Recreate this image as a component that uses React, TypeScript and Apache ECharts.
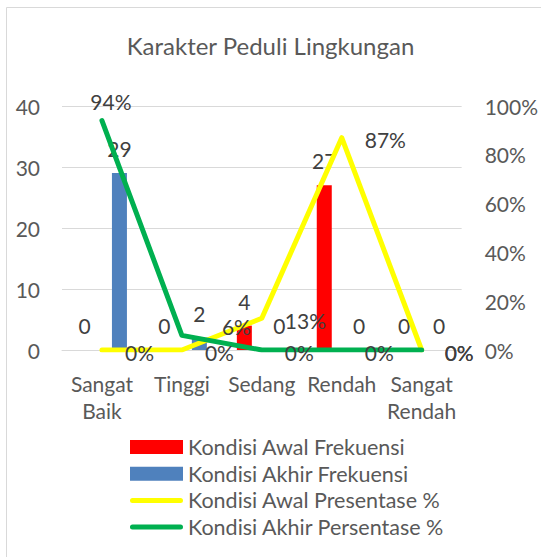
import React, { useEffect, useRef } from "react";
import * as echarts from "echarts";

const categories = ["Sangat\nBaik", "Tinggi", "Sedang", "Rendah", "Sangat\nRendah"];
const awalFrekuensi = [0, 0, 4, 27, 0];
const akhirFrekuensi = [29, 2, 0, 0, 0];
const awalPersen = [0, 0, 13, 87, 0];
const akhirPersen = [94, 6, 0, 0, 0];
const leftTicks = { min: 0, max: 40, interval: 10 };
const rightTicks = { min: 0, max: 100, interval: 20 };

const FONT = "Lato";
const TXT = "#595959";
const LBL = "#404040";

export default function App() {
  const ref = useRef<HTMLDivElement>(null);
  useEffect(() => {
    if (!ref.current) return;
    const chart = echarts.init(ref.current, undefined, { renderer: "svg" });
    const pctLabel = (p: any) => `${p.value}%`;
    const lineLabelRight = { show: true, position: "right", distance: 23, offset: [0, 2], formatter: pctLabel, color: LBL, fontSize: 21, fontFamily: FONT };
    chart.setOption({
      animation: false,
      backgroundColor: "#ffffff",
      textStyle: { fontFamily: FONT },
      title: {
        text: "Karakter Peduli Lingkungan",
        left: "center",
        top: 28,
        textStyle: { fontFamily: FONT, fontSize: 24, fontWeight: "normal", color: TXT },
      },
      graphic: [
        { type: "rect", shape: { x: 6.5, y: 7.5, width: 560, height: 570 }, style: { fill: "none", stroke: "#D9D9D9", lineWidth: 1 }, silent: true },
      ],
      legend: {
        orient: "vertical",
        left: 125,
        top: 431,
        itemWidth: 53,
        itemHeight: 14,
        itemGap: 4.7,
        textStyle: { fontFamily: FONT, fontSize: 21.5, color: TXT, lineHeight: 20, height: 20 },
        data: [
          { name: "Kondisi Awal Frekuensi", icon: "rect" },
          { name: "Kondisi Akhir Frekuensi", icon: "rect" },
          { name: "Kondisi Awal Presentase %", icon: "path://M2.5,0h48a2.5,2.5,0,0,1,0,5h-48a2.5,2.5,0,0,1,0,-5z" },
          { name: "Kondisi Akhir Persentase %", icon: "path://M2.5,0h48a2.5,2.5,0,0,1,0,5h-48a2.5,2.5,0,0,1,0,-5z" },
        ],
      },
      grid: { left: 62, right: 77, top: 106, bottom: 207, containLabel: false },
      xAxis: {
        type: "category",
        data: categories,
        boundaryGap: true,
        axisLine: { show: true, lineStyle: { color: "#D9D9D9", width: 1 } },
        axisTick: { show: false },
        axisLabel: { color: TXT, fontSize: 21, fontFamily: FONT, margin: 20, lineHeight: 27, interval: 0 },
      },
      yAxis: [
        {
          type: "value",
          ...leftTicks,
          axisLine: { show: false },
          axisTick: { show: false },
          splitLine: { show: true, lineStyle: { color: "#D9D9D9", width: 1 } },
          axisLabel: { color: TXT, fontSize: 21, fontFamily: FONT, margin: 22 },
        },
        {
          type: "value",
          ...rightTicks,
          position: "right",
          axisLine: { show: false },
          axisTick: { show: false },
          splitLine: { show: false },
          axisLabel: { color: TXT, fontSize: 21, fontFamily: FONT, margin: 23, formatter: "{value}%" },
        },
      ],
      series: [
        {
          name: "Kondisi Awal Frekuensi",
          type: "bar",
          data: awalFrekuensi,
          barWidth: 15,
          barGap: "133%",
          itemStyle: { color: "#FF0000" },
          label: { show: true, position: "top", distance: 14, color: LBL, fontSize: 21, fontFamily: FONT },
        },
        {
          name: "Kondisi Akhir Frekuensi",
          type: "bar",
          data: akhirFrekuensi,
          barWidth: 15,
          barGap: "133%",
          itemStyle: { color: "#4F81BD" },
          label: { show: true, position: "top", distance: 14, color: LBL, fontSize: 21, fontFamily: FONT },
        },
        {
          name: "Kondisi Awal Presentase %",
          type: "line",
          yAxisIndex: 1,
          data: awalPersen,
          showSymbol: true,
          symbol: "circle",
          symbolSize: 0,
          itemStyle: { color: "#FFFF00" },
          lineStyle: { color: "#FFFF00", width: 5, cap: "round", join: "round" },
          label: lineLabelRight,
        },
        {
          name: "Kondisi Akhir Persentase %",
          type: "line",
          yAxisIndex: 1,
          showSymbol: true,
          symbol: "circle",
          symbolSize: 0,
          data: akhirPersen.map((v, i) => {
            if (i === 0) return { value: v, label: { position: "top", distance: 9, offset: [9, 0] } };
            if (i === 1) return { value: v, label: { position: "right", distance: 40, offset: [0, -9] } };
            return v;
          }),
          itemStyle: { color: "#00B050" },
          lineStyle: { color: "#00B050", width: 5, cap: "round", join: "round" },
          label: lineLabelRight,
        },
      ],
    });
    return () => chart.dispose();
  }, []);
  return <div ref={ref} style={{ width: 541, height: 557, position: "absolute", left: 0, top: 0 }} />;
}
